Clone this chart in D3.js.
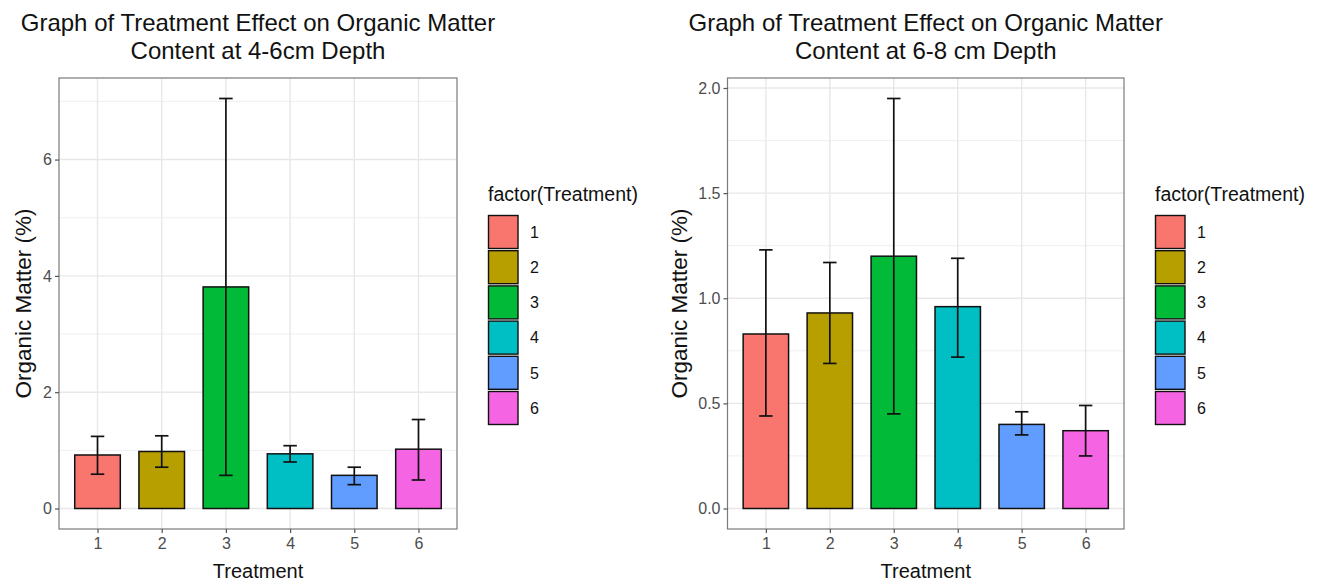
<!DOCTYPE html>
<html>
<head>
<meta charset="utf-8">
<script src="https://cdn.jsdelivr.net/npm/d3@7"></script>
<style>
  body { margin: 0; background: #fff; }
  text { font-family: "Liberation Sans", Arial, Helvetica, sans-serif; }
</style>
</head>
<body>
<div id="chart"></div>
<script>
const width = 1322, height = 581;

// treatments and ggplot hue colours
const treatments = ["1", "2", "3", "4", "5", "6"];
const colors = ["#F8766D", "#B79F00", "#00BA38", "#00BFC4", "#619CFF", "#F564E3"];

// 4-6 cm depth: mean and error bar ends
const om46Mean  = [0.92, 0.98, 3.81, 0.94, 0.57, 1.02];
const om46Lower = [0.59, 0.71, 0.57, 0.80, 0.41, 0.49];
const om46Upper = [1.24, 1.25, 7.05, 1.08, 0.71, 1.53];
const om46Ticks = [0, 2, 4, 6];

// 6-8 cm depth
const om68Mean  = [0.83, 0.93, 1.20, 0.96, 0.40, 0.37];
const om68Lower = [0.44, 0.69, 0.45, 0.72, 0.35, 0.25];
const om68Upper = [1.23, 1.17, 1.95, 1.19, 0.46, 0.49];
const om68Ticks = [0, 0.5, 1.0, 1.5, 2.0];

const svg = d3.select("#chart").append("svg")
  .attr("width", width)
  .attr("height", height);

svg.append("rect").attr("width", width).attr("height", height).attr("fill", "#fff");

function drawPanel(opt) {
  const data = treatments.map((t, i) => ({
    t: t, mean: opt.mean[i], lo: opt.lower[i], hi: opt.upper[i], color: colors[i]
  }));

  const x = d3.scalePoint()
    .domain(treatments)
    .range([opt.left, opt.right])
    .padding(0.6);

  const ymax = d3.max(data, d => d.hi);
  const pad = ymax * 0.05;
  const y = d3.scaleLinear()
    .domain([-pad, ymax + pad])
    .range([opt.bottom, opt.top]);

  const g = svg.append("g");

  // minor grid = midpoints of major ticks
  const step = opt.ticks[1] - opt.ticks[0];
  const minor = [opt.ticks[0] - step / 2]
    .concat(opt.ticks.map(v => v + step / 2))
    .filter(v => v >= y.domain()[0] && v <= y.domain()[1]);

  g.selectAll(".minor").data(minor).join("line")
    .attr("x1", opt.left).attr("x2", opt.right)
    .attr("y1", d => y(d)).attr("y2", d => y(d))
    .attr("stroke", "#ebebeb").attr("stroke-width", 0.8);

  g.selectAll(".hgrid").data(opt.ticks).join("line")
    .attr("x1", opt.left).attr("x2", opt.right)
    .attr("y1", d => y(d)).attr("y2", d => y(d))
    .attr("stroke", "#e8e8e8").attr("stroke-width", 1.4);

  g.selectAll(".vgrid").data(treatments).join("line")
    .attr("x1", d => x(d)).attr("x2", d => x(d))
    .attr("y1", opt.top).attr("y2", opt.bottom)
    .attr("stroke", "#e8e8e8").attr("stroke-width", 1.4);

  const bw = x.step() * 0.71;

  g.selectAll(".bar").data(data).join("rect")
    .attr("x", d => x(d.t) - bw / 2)
    .attr("y", d => y(d.mean))
    .attr("width", bw)
    .attr("height", d => y(0) - y(d.mean))
    .attr("fill", d => d.color)
    .attr("stroke", "#111")
    .attr("stroke-width", 1.5);

  // error bars
  const cap = x.step() * 0.21;
  const eb = g.selectAll(".err").data(data).join("g").attr("stroke", "#111").attr("stroke-width", 1.7);
  eb.append("line")
    .attr("x1", d => x(d.t)).attr("x2", d => x(d.t))
    .attr("y1", d => y(d.lo)).attr("y2", d => y(d.hi));
  eb.append("line")
    .attr("x1", d => x(d.t) - cap / 2).attr("x2", d => x(d.t) + cap / 2)
    .attr("y1", d => y(d.hi)).attr("y2", d => y(d.hi));
  eb.append("line")
    .attr("x1", d => x(d.t) - cap / 2).attr("x2", d => x(d.t) + cap / 2)
    .attr("y1", d => y(d.lo)).attr("y2", d => y(d.lo));

  // panel border
  g.append("rect")
    .attr("x", opt.left).attr("y", opt.top)
    .attr("width", opt.right - opt.left).attr("height", opt.bottom - opt.top)
    .attr("fill", "none").attr("stroke", "#7a7a7a").attr("stroke-width", 1.2);

  // axes
  const yAxis = d3.axisLeft(y).tickValues(opt.ticks).tickSize(4).tickPadding(3)
    .tickFormat(opt.fmt);
  const ya = g.append("g").attr("transform", `translate(${opt.left},0)`).call(yAxis);
  const xAxis = d3.axisBottom(x).tickSize(4).tickPadding(5);
  const xa = g.append("g").attr("transform", `translate(0,${opt.bottom})`).call(xAxis);
  [ya, xa].forEach(a => {
    a.select(".domain").remove();
    a.selectAll(".tick line").attr("stroke", "#555").attr("stroke-width", 1.2);
    a.selectAll(".tick text").attr("fill", "#4d4d4d").style("font-size", "16px")
      .style("font-family", "'Liberation Sans', Arial, sans-serif");
  });

  // titles
  const cx = (opt.left + opt.right) / 2;
  const title = g.append("text").attr("text-anchor", "middle")
    .style("font-size", "24px").attr("fill", "#111");
  title.append("tspan").attr("x", cx).attr("y", 31).text(opt.title[0]);
  title.append("tspan").attr("x", cx).attr("y", 59).text(opt.title[1]);

  g.append("text")
    .attr("x", cx).attr("y", 578)
    .attr("text-anchor", "middle")
    .style("font-size", "20px").attr("fill", "#111")
    .text("Treatment");

  g.append("text")
    .attr("transform", `translate(${opt.ytitleX},${(opt.top + opt.bottom) / 2}) rotate(-90)`)
    .attr("text-anchor", "middle")
    .style("font-size", "22.5px").attr("fill", "#111")
    .text("Organic Matter (%)");

  // legend
  const lg = g.append("g").attr("transform", `translate(${opt.right + 31},0)`);
  lg.append("text").attr("x", 0).attr("y", 200.5)
    .style("font-size", "19.5px").attr("fill", "#111").text("factor(Treatment)");
  const keys = lg.selectAll(".key").data(data).join("g")
    .attr("transform", (d, i) => `translate(0,${215 + i * 35.2})`);
  keys.append("rect")
    .attr("x", 0.5).attr("y", 0.5)
    .attr("width", 29.5).attr("height", 33)
    .attr("fill", d => d.color)
    .attr("stroke", "#111").attr("stroke-width", 1.4);
  keys.append("text")
    .attr("x", 42).attr("y", 17)
    .attr("dy", "0.36em")
    .style("font-size", "16px").attr("fill", "#111")
    .text(d => d.t);
}

drawPanel({
  left: 59, right: 457, top: 78, bottom: 529,
  mean: om46Mean, lower: om46Lower, upper: om46Upper, ticks: om46Ticks,
  fmt: d3.format("d"),
  ytitleX: 31,
  title: ["Graph of Treatment Effect on Organic Matter", "Content at 4-6cm Depth"]
});

drawPanel({
  left: 727.5, right: 1124, top: 78, bottom: 529,
  mean: om68Mean, lower: om68Lower, upper: om68Upper, ticks: om68Ticks,
  fmt: d3.format(".1f"),
  ytitleX: 687,
  title: ["Graph of Treatment Effect on Organic Matter", "Content at 6-8 cm Depth"]
});
</script>
</body>
</html>
